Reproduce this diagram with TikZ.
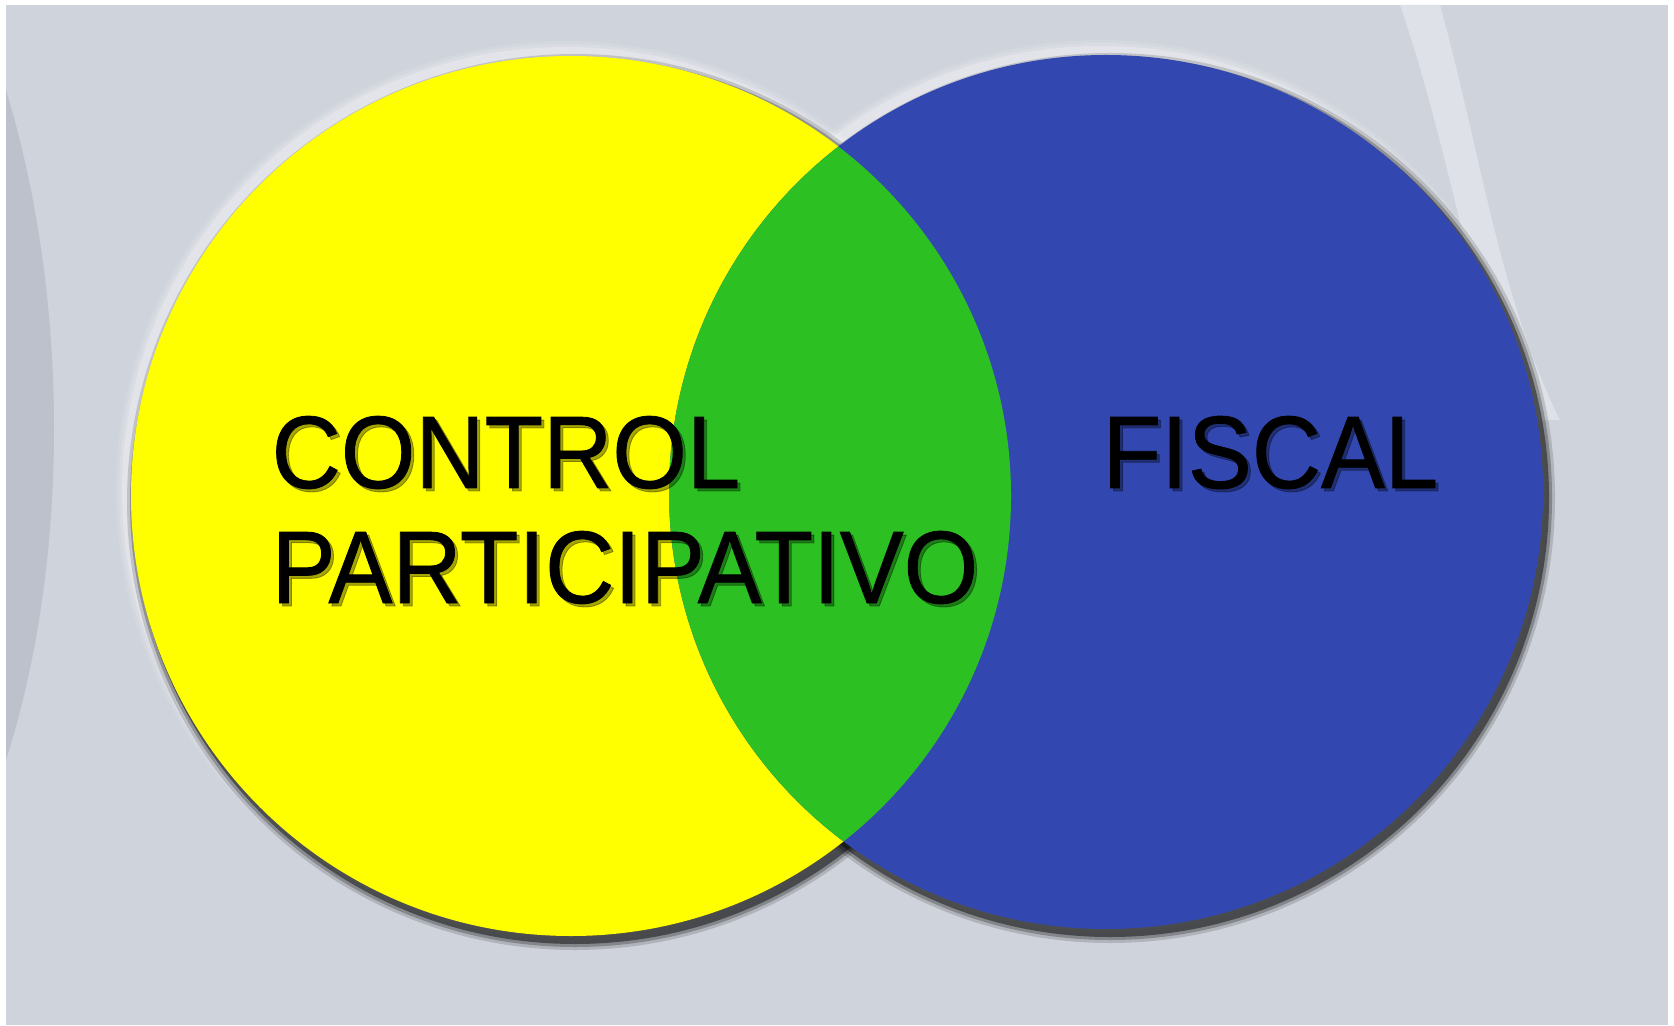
\documentclass[tikz,border=0pt]{standalone}
\usepackage{fontspec}
\setmainfont{Liberation Sans}
\newfontfamily\vennfont[FakeStretch=0.93,FakeBold=0.8]{Liberation Sans}
\usetikzlibrary{positioning}

\definecolor{paper}{RGB}{207,211,219}
\definecolor{paperdark}{RGB}{188,193,203}
\definecolor{paperlight}{RGB}{222,225,231}
\definecolor{vennyellow}{RGB}{255,255,0}
\definecolor{venngreen}{RGB}{44,192,34}
\definecolor{vennblue}{RGB}{50,72,176}

\begin{document}
\begin{tikzpicture}[x=0.01cm,y=-0.01cm,
    setlabel/.style={font=\vennfont\fontsize{29.3}{32}\selectfont, inner sep=0pt, text=black},
    labelshadow/.style={setlabel, text=black, opacity=0.35}]
    \useasboundingbox (0,0) rectangle (1674,1025);
    % background
    \fill[white] (0,0) rectangle (1674,1025);
    \fill[paper] (6,5) rectangle (1668,1025);
    \fill[paperdark] (6,90) .. controls (70,300) and (70,560) .. (6,760) -- cycle;
    \fill[paperlight] (1400,5) .. controls (1450,150) and (1470,300) .. (1520,420)
        -- (1560,420) .. controls (1500,300) and (1480,150) .. (1440,5) -- cycle;
    \coordinate (yc) at (571,496);
    \coordinate (bc) at (1106,492);
    % shadows and halos
    \foreach \r/\o in {10/0.10,7/0.15,4/0.25} {
        \fill[white, opacity=\o] ([shift={(-5,-5)}]yc) circle (440+\r);
        \fill[white, opacity=\o] ([shift={(-5,-5)}]bc) circle (437+\r);
    }
    \foreach \r/\o in {8/0.15,5/0.25,2/0.45} {
        \fill[black, opacity=\o] ([shift={(4,6)}]yc) circle (440+\r);
        \fill[black, opacity=\o] ([shift={(4,6)}]bc) circle (437+\r);
    }
    % circles
    \fill[vennyellow] (yc) circle (440);
    \fill[vennblue] (bc) circle (437);
    \begin{scope}
        \clip (yc) circle (440);
        \fill[venngreen] (bc) circle (437);
    \end{scope}
    % labels
    \node[labelshadow, anchor=base west] at (274,491) {CONTROL};
    \node[labelshadow, anchor=base west] at (274,606) {PARTICIPATIVO};
    \node[labelshadow, anchor=base west] at (1105,491) {FISCAL};
    \node[setlabel, anchor=base west] (ctl) at (271,488) {CONTROL};
    \node[setlabel, anchor=base west] (part) at (271,603) {PARTICIPATIVO};
    \node[setlabel, anchor=base west] (fis) at (1102,488) {FISCAL};
\end{tikzpicture}
\end{document}
